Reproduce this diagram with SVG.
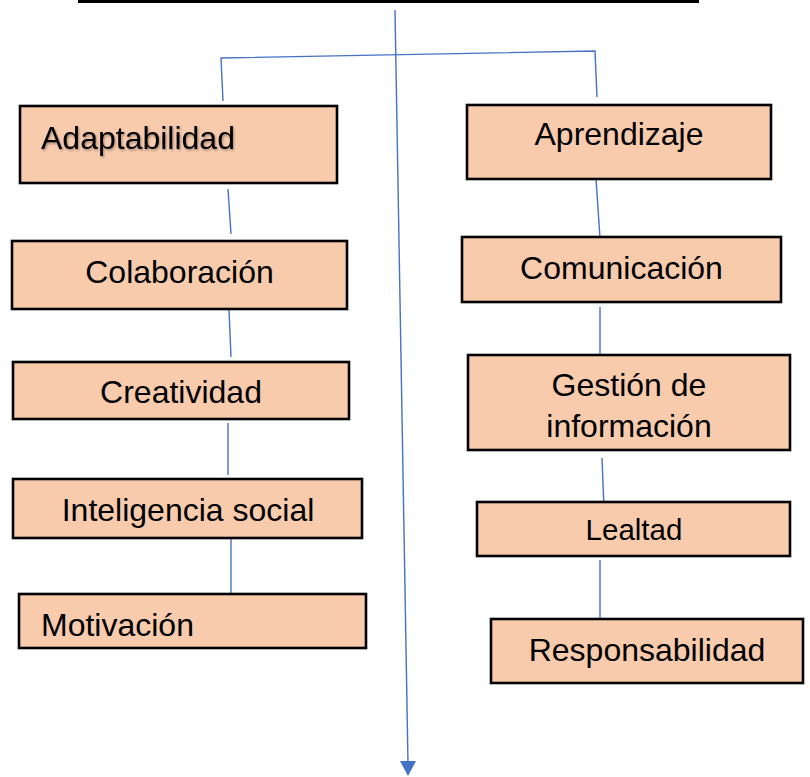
<svg xmlns="http://www.w3.org/2000/svg" width="810" height="777" viewBox="0 0 810 777">
<style>
.box{fill:#F8CBAD;stroke:#000;stroke-width:2.6}
.t{font-family:"Liberation Sans",Arial,sans-serif;font-size:32px;fill:#000}
.c{text-anchor:middle}
.ln{stroke:#4472C4;stroke-width:1.4;fill:none}
</style>
<defs>
<filter id="sh" x="-10%" y="-20%" width="130%" height="150%">
<feDropShadow dx="1" dy="1.5" stdDeviation="0.8" flood-color="#000" flood-opacity="0.35"/>
</filter>
</defs>
<rect width="810" height="777" fill="#fff"/>
<line x1="78" y1="1.5" x2="699" y2="1.5" stroke="#000" stroke-width="3"/>
<g id="connectors">
<polyline class="ln" points="223,101 221,58 595,51 597,97"/>
<line class="ln" x1="228" y1="189" x2="231" y2="234"/>
<line class="ln" x1="229" y1="310" x2="231" y2="357"/>
<line class="ln" x1="228" y1="423" x2="228" y2="475"/>
<line class="ln" x1="231" y1="537" x2="231" y2="593"/>
<line class="ln" x1="596" y1="179" x2="600" y2="238"/>
<line class="ln" x1="600" y1="307" x2="600" y2="354"/>
<line class="ln" x1="602" y1="458" x2="604" y2="508"/>
<line class="ln" x1="600" y1="560" x2="600" y2="620"/>
<line class="ln" x1="395" y1="10" x2="408" y2="763"/>
<polygon points="400,761 416,761 408,776" fill="#4472C4"/>
</g>
<g id="adaptabilidad">
<rect class="box" x="20" y="106" width="317" height="77"/>
<text class="t" x="41" y="149" filter="url(#sh)">Adaptabilidad</text>
</g>
<g id="colaboracion">
<rect class="box" x="12" y="241" width="335" height="68"/>
<text class="t c" x="179.5" y="283">Colaboración</text>
</g>
<g id="creatividad">
<rect class="box" x="13" y="362" width="336" height="57"/>
<text class="t c" x="181" y="403">Creatividad</text>
</g>
<g id="inteligencia">
<rect class="box" x="13" y="479" width="349" height="59"/>
<text class="t c" x="188" y="521">Inteligencia social</text>
</g>
<g id="motivacion">
<rect class="box" x="19" y="594" width="347" height="54"/>
<text class="t" x="41" y="636">Motivación</text>
</g>
<g id="aprendizaje">
<rect class="box" x="467" y="105" width="304" height="74"/>
<text class="t c" x="619" y="145">Aprendizaje</text>
</g>
<g id="comunicacion">
<rect class="box" x="462" y="237" width="319" height="65"/>
<text class="t c" x="621.5" y="279">Comunicación</text>
</g>
<g id="gestion">
<rect class="box" x="468" y="355" width="322" height="95"/>
<text class="t c" x="629" y="396">Gestión de</text>
<text class="t c" x="629" y="437">información</text>
</g>
<g id="lealtad">
<rect class="box" x="477" y="502" width="313" height="54"/>
<text class="t c" x="634" y="540" style="font-size:29.5px">Lealtad</text>
</g>
<g id="responsabilidad">
<rect class="box" x="491" y="619" width="312" height="64"/>
<text class="t c" x="647" y="661">Responsabilidad</text>
</g>
</svg>
